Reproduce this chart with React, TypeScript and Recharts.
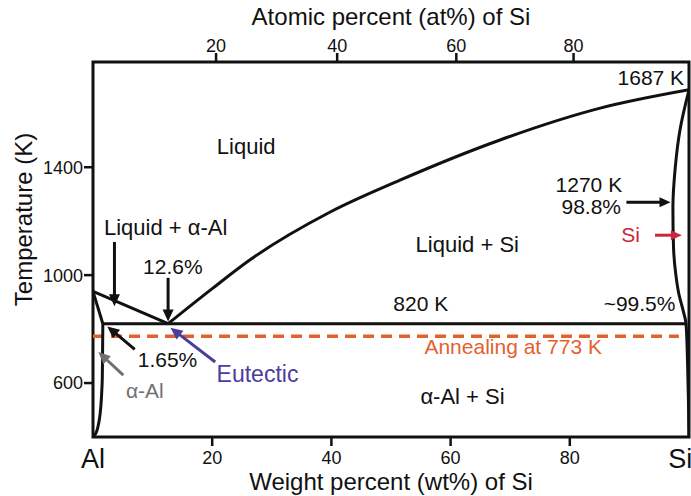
import { LineChart, Line, XAxis, YAxis, ReferenceLine, ReferenceDot, ReferenceArea } from 'recharts';

// Diagrama de fases Al-Si: composição em wt% de Si, temperatura em K

const liquidusAl = [
  { wt: 0, T: 940 },
  { wt: 12.6, T: 820 },
];

const solidusAl = [
  { wt: 0, T: 940 },
  { wt: 1.65, T: 820 },
];

const solvusAl = [
  { wt: 1.65, T: 820 },
  { wt: 1.6, T: 700 },
  { wt: 1.55, T: 610 },
  { wt: 1.45, T: 560 },
  { wt: 1.3, T: 510 },
  { wt: 1.1, T: 470 },
  { wt: 0.85, T: 440 },
  { wt: 0.5, T: 415 },
  { wt: 0, T: 400 },
];

const liquidusSi = [
  { wt: 12.6, T: 820 },
  { wt: 20, T: 950 },
  { wt: 26.3, T: 1056 },
  { wt: 39.8, T: 1234 },
  { wt: 51.5, T: 1352 },
  { wt: 68.3, T: 1501 },
  { wt: 85.1, T: 1619 },
  { wt: 100, T: 1687 },
];

const solvusSi = [
  { wt: 100, T: 1687 },
  { wt: 98.5, T: 1540 },
  { wt: 97.7, T: 1400 },
  { wt: 97.3, T: 1250 },
  { wt: 97.4, T: 1105 },
  { wt: 97.8, T: 1000 },
  { wt: 98.3, T: 930 },
  { wt: 99.0, T: 870 },
  { wt: 99.5, T: 820 },
  { wt: 99.75, T: 680 },
  { wt: 99.9, T: 540 },
  { wt: 100, T: 400 },
];

const eutecticLine = [
  { wt: 1.65, T: 820 },
  { wt: 99.5, T: 820 },
];

const annealing = [
  { wt: 0, T: 773 },
  { wt: 98.3, T: 773 },
];

const wtTicks = [20, 40, 60, 80];
const tempTicks = [600, 1000, 1400];
const atLabels = [20, 40, 60, 80];

// massas atômicas para converter at% -> wt%
const M_SI = 28.0855;
const M_AL = 26.9815;
const atToWt = (at: number) => (100 * at * M_SI) / (at * M_SI + (100 - at) * M_AL);
const atTickWt = atLabels.map(atToWt);

const FONT = '"Liberation Sans", Arial, Helvetica, sans-serif';
const INK = '#111';

function arrowShape(color: string, width = 3, head = 12, half = 5.5) {
  return (p: any) => {
    const { x1, y1, x2, y2 } = p;
    const dx = x2 - x1;
    const dy = y2 - y1;
    const len = Math.hypot(dx, dy) || 1;
    const ux = dx / len;
    const uy = dy / len;
    const bx = x2 - ux * head;
    const by = y2 - uy * head;
    const pts = `${x2},${y2} ${bx - uy * half},${by + ux * half} ${bx + uy * half},${by - ux * half}`;
    return (
      <g>
        <line x1={x1} y1={y1} x2={bx + ux} y2={by + uy} stroke={color} strokeWidth={width} />
        <polygon points={pts} fill={color} />
      </g>
    );
  };
}

function note(text: string, color = INK, size = 21, anchor: 'start' | 'middle' | 'end' = 'middle') {
  return (p: any) => (
    <text x={p.cx} y={p.cy} fill={color} fontSize={size} textAnchor={anchor} fontFamily={FONT}>
      {text}
    </text>
  );
}

const yTitle = (props: any) => {
  const vb = props.viewBox || { x: 0, y: 62, width: 93, height: 375 };
  const cx = 32;
  const cy = vb.y + vb.height / 2 - 30;
  return (
    <text transform={`translate(${cx},${cy}) rotate(-90)`} textAnchor="middle" fontSize={24} fill={INK} fontFamily={FONT}>
      Temperature (K)
    </text>
  );
};

export default function App() {
  const curve = { stroke: INK, strokeWidth: 3, dot: false, activeDot: false, isAnimationActive: false } as const;

  return (
    <div style={{ position: 'absolute', left: 0, top: 0, width: 691, height: 496, background: '#fff', fontFamily: FONT }}>
      <LineChart width={691} height={496} margin={{ top: 0, right: 2, bottom: 0, left: 0 }}>
        <XAxis
          dataKey="wt"
          type="number"
          domain={[0, 100]}
          allowDataOverflow
          ticks={wtTicks}
          height={59}
          axisLine={false}
          tickSize={9}
          tickMargin={5}
          tickLine={{ stroke: INK, strokeWidth: 2.5 }}
          tick={{ fontSize: 18, fill: INK }}
          label={{ value: 'Weight percent (wt%) of Si', position: 'insideBottom', offset: 6, fontSize: 24, fill: INK }}
        />
        <XAxis
          xAxisId="at"
          dataKey="wt"
          orientation="top"
          type="number"
          domain={[0, 100]}
          allowDataOverflow
          ticks={atTickWt}
          interval={0}
          tickFormatter={(v: number) => String(atLabels[atTickWt.indexOf(v)] ?? '')}
          height={62}
          axisLine={false}
          tickSize={9}
          tickMargin={1}
          tickLine={{ stroke: INK, strokeWidth: 2.5 }}
          tick={{ fontSize: 18, fill: INK }}
          label={{ value: 'Atomic percent (at%) of Si', position: 'insideTop', offset: 8, fontSize: 24, fill: INK }}
        />
        <YAxis
          type="number"
          domain={[400, 1790]}
          allowDataOverflow
          ticks={tempTicks}
          width={93}
          axisLine={false}
          tickSize={9}
          tickMargin={1}
          tickLine={{ stroke: INK, strokeWidth: 2.5 }}
          tick={{ fontSize: 18, fill: INK }}
          label={{ content: yTitle }}
        />

        {/* recozimento (mesma escala 0-100 do eixo superior) */}
        <Line xAxisId="at" data={annealing} dataKey="T" type="linear" stroke="#E2622F" strokeWidth={3.5} strokeDasharray="11 7" dot={false} activeDot={false} isAnimationActive={false} />

        <Line data={liquidusAl} dataKey="T" type="linear" {...curve} />
        <Line data={solidusAl} dataKey="T" type="linear" {...curve} />
        <Line data={solvusAl} dataKey="T" type="monotoneY" {...curve} />
        <Line data={liquidusSi} dataKey="T" type="monotoneX" {...curve} />
        <Line data={solvusSi} dataKey="T" type="monotoneY" {...curve} />
        <Line data={eutecticLine} dataKey="T" type="linear" {...curve} />

        <ReferenceArea x1={0} x2={100} y1={400} y2={1790} fill="none" stroke={INK} strokeWidth={3} ifOverflow="visible" />

        {/* setas */}
        <ReferenceLine segment={[{ x: 3.6, y: 1123 }, { x: 3.6, y: 885 }]} shape={arrowShape(INK)} />
        <ReferenceLine segment={[{ x: 12.6, y: 990 }, { x: 12.6, y: 828 }]} shape={arrowShape(INK)} />
        <ReferenceLine segment={[{ x: 7.0, y: 725 }, { x: 2.4, y: 810 }]} shape={arrowShape(INK)} />
        <ReferenceLine segment={[{ x: 5.08, y: 629 }, { x: 0.9, y: 715 }]} shape={arrowShape('#707070')} />
        <ReferenceLine segment={[{ x: 20.5, y: 678 }, { x: 13.0, y: 805 }]} shape={arrowShape('#4B3D9B')} />
        <ReferenceLine segment={[{ x: 89.5, y: 1270 }, { x: 96.9, y: 1270 }]} shape={arrowShape(INK, 3, 11, 5)} />
        <ReferenceLine segment={[{ x: 94.3, y: 1148 }, { x: 98.8, y: 1148 }]} shape={arrowShape('#C8283C', 3, 11, 5)} />

        {/* rótulos */}
        <ReferenceDot x={25.7} y={1449} ifOverflow="visible" shape={note('Liquid', INK, 22)} />
        <ReferenceDot x={12.2} y={1148} ifOverflow="visible" shape={note('Liquid + α-Al', INK, 22)} />
        <ReferenceDot x={62.8} y={1086} ifOverflow="visible" shape={note('Liquid + Si', INK, 22)} />
        <ReferenceDot x={13.4} y={1004} ifOverflow="visible" shape={note('12.6%')} />
        <ReferenceDot x={12.5} y={660} ifOverflow="visible" shape={note('1.65%')} />
        <ReferenceDot x={8.7} y={543} ifOverflow="visible" shape={note('α-Al', '#707070')} />
        <ReferenceDot x={27.6} y={604} ifOverflow="visible" shape={note('Eutectic', '#4B3D9B', 23)} />
        <ReferenceDot x={55.0} y={866} ifOverflow="visible" shape={note('820 K')} />
        <ReferenceDot x={91.7} y={866} ifOverflow="visible" shape={note('~99.5%')} />
        <ReferenceDot x={70.5} y={707} ifOverflow="visible" shape={note('Annealing at 773 K', '#E2622F')} />
        <ReferenceDot x={62.0} y={521} ifOverflow="visible" shape={note('α-Al + Si', INK, 22)} />
        <ReferenceDot x={93.6} y={1705} ifOverflow="visible" shape={note('1687 K')} />
        <ReferenceDot x={83.2} y={1309} ifOverflow="visible" shape={note('1270 K')} />
        <ReferenceDot x={83.6} y={1226} ifOverflow="visible" shape={note('98.8%')} />
        <ReferenceDot x={90.2} y={1123} ifOverflow="visible" shape={note('Si', '#C8283C')} />
        <ReferenceDot x={0} y={284} ifOverflow="visible" shape={note('Al', INK, 27)} />
        <ReferenceDot x={96.5} y={284} ifOverflow="visible" shape={note('Si', INK, 27, 'start')} />
      </LineChart>
    </div>
  );
}
